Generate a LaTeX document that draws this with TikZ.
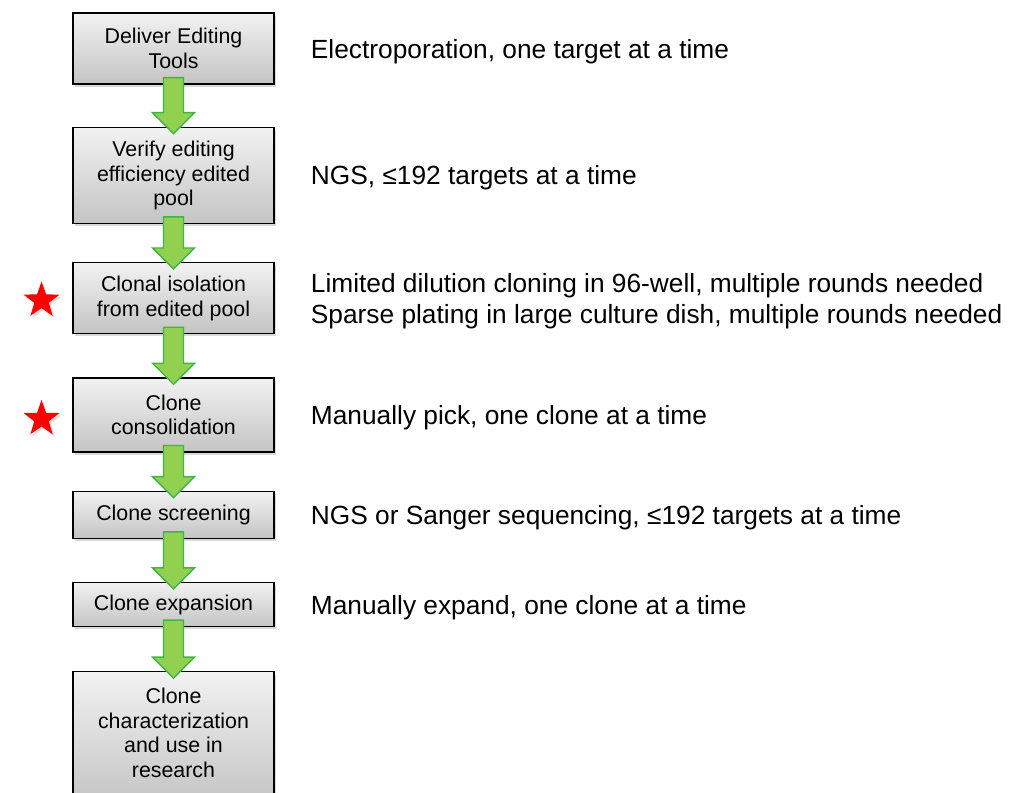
\documentclass[tikz,border=0pt]{standalone}
\usepackage{fontspec}
\setmainfont{Liberation Sans}
\usetikzlibrary{positioning, shapes.geometric, shadows, calc}
\definecolor{flowgreen}{RGB}{146, 208, 80}
\definecolor{flowedge}{RGB}{64, 180, 72}
\definecolor{boxtop}{RGB}{242, 242, 242}
\definecolor{boxbottom}{RGB}{196, 196, 196}

% block arrow from one step box into the next
\newcommand{\steparrow}[2]{%
  \coordinate (s) at ($(#1.south)+(0,-7)$);
  \coordinate (t) at ($(#2.north)+(0,7)$);
  \draw[fatarrow] ($(s)+(-10,0)$) -- ($(t)+(-10,-21)$) -- ($(t)+(-21,-21)$) -- (t)
    -- ($(t)+(21,-21)$) -- ($(t)+(10,-21)$) -- ($(s)+(10,0)$) -- cycle;}

\begin{document}
\begin{tikzpicture}[x=0.025cm, y=-0.025cm,
        stepbox/.style={rectangle, draw=black, line width=0.9pt, top color=boxtop, bottom color=boxbottom,
            minimum width=5.025cm, align=center, font=\fontsize{15.2}{17.7}\selectfont,
            drop shadow={shadow xshift=0.06cm, shadow yshift=-0.07cm, opacity=0.3}},
        note/.style={anchor=west, inner sep=0pt, align=left, yshift=-0.07cm, font=\fontsize{18.7}{22}\selectfont},
        fatarrow/.style={draw=flowedge, line width=1pt, fill=flowgreen, line join=miter},
        mark star/.style={star, star points=5, star point ratio=2.5, fill=red, draw=none,
            minimum size=0.95cm, inner sep=0pt,
            drop shadow={shadow xshift=0.05cm, shadow yshift=-0.06cm, opacity=0.25}}
    ]
        \useasboundingbox (0,0) rectangle (1015,792);
        \node[stepbox, minimum height=1.775cm] (deliver) at (173.5,48.5) {Deliver Editing\\Tools};
        \node[stepbox, minimum height=2.4cm, below=1.05cm of deliver, text depth=0.1cm] (verify) {Verify editing\\efficiency edited\\pool};
        \node[stepbox, minimum height=1.775cm, below=0.95cm of verify] (isolate) {Clonal isolation\\from edited pool};
        \node[stepbox, minimum height=1.85cm, below=1.075cm of isolate] (consol) {Clone\\consolidation};
        \node[stepbox, minimum height=1.175cm, below=0.95cm of consol] (screen) {Clone screening};
        \node[stepbox, minimum height=1.1cm, below=1.075cm of screen] (expand) {Clone expansion};
        \node[stepbox, minimum height=3.3cm, below=1.1cm of expand, text depth=0.25cm] (charact) {Clone\\characterization\\and use in\\research};

        \node[note, right=0.9cm of deliver] (n1) {Electroporation, one target at a time};
        \node[note, right=0.9cm of verify] (n2) {NGS, ≤192 targets at a time};
        \node[note, right=0.9cm of isolate] (n3) {Limited dilution cloning in 96-well, multiple rounds needed\\Sparse plating in large culture dish, multiple rounds needed};
        \node[note, right=0.9cm of consol] (n4) {Manually pick, one clone at a time};
        \node[note, right=0.9cm of screen] (n5) {NGS or Sanger sequencing, ≤192 targets at a time};
        \node[note, right=0.9cm of expand] (n6) {Manually expand, one clone at a time};

        \node[mark star, left=0.5cm of isolate, yshift=-0.06cm] (star1) {};
        \node[mark star, left=0.5cm of consol, yshift=-0.1cm] (star2) {};

        \steparrow{deliver}{verify}
        \steparrow{verify}{isolate}
        \steparrow{isolate}{consol}
        \steparrow{consol}{screen}
        \steparrow{screen}{expand}
        \steparrow{expand}{charact}
    \end{tikzpicture}
\end{document}
